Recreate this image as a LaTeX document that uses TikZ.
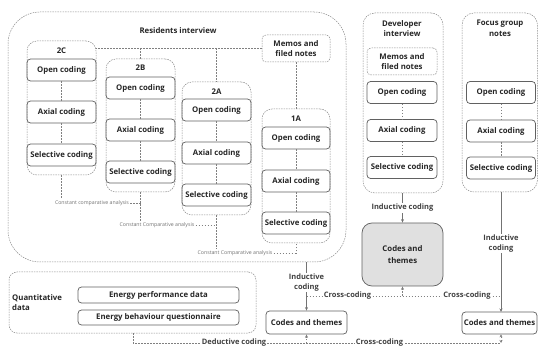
\documentclass[tikz,border=0pt]{standalone}
\usepackage{fontspec}
\setmainfont{Open Sans}
\usetikzlibrary{arrows.meta,calc}
\begin{document}
\begin{tikzpicture}[x=1pt,y=-1pt,
  cont/.style={draw=black!45, dash pattern=on 1.5pt off 1pt, line width=0.5pt, rounded corners=10pt, inner sep=0pt},
  mbox/.style={draw=black!45, dash pattern=on 1.5pt off 1pt, line width=0.5pt, rounded corners=4pt, inner sep=0pt, align=center, font=\bfseries\fontsize{7.8}{10}\selectfont, text=black!85},
  ibox/.style={draw=black!62, line width=0.75pt, rounded corners=3.5pt, font=\bfseries\fontsize{7.8}{9}\selectfont, text=black!85, inner sep=0pt, minimum width=69pt, minimum height=22pt},
  ttl/.style={font=\bfseries\fontsize{7.8}{10.5}\selectfont, text=black!85, align=center, inner sep=1pt},
  cca/.style={font=\fontsize{5.2}{6}\selectfont, text=black!55, fill=white, inner sep=1pt},
  dl/.style={draw=black!50, dash pattern=on 1.5pt off 1.5pt, line width=0.5pt},
  sl/.style={draw=black!55, line width=0.7pt},
  tip/.style={-{Stealth[length=3.5pt,width=3pt]}},
  lab/.style={font=\bfseries\fontsize{7.5}{10}\selectfont, text=black!75, fill=white, align=center, inner sep=1pt},
]
\useasboundingbox (0,0) rectangle (538,347);

% Residents interview container
\node[cont, rounded corners=32pt, minimum width=338pt, minimum height=250pt] (res) at (177,137) {};
\node[ttl] (tres) at (178,31) {Residents interview};
\node[mbox, minimum width=68pt, minimum height=27pt] (mres) at (296,48.5) {Memos and\\filed notes};

% 2C
\node[cont, minimum width=69pt, minimum height=134pt] (c2C) at (61.5,108) {};
\node[ttl] (l2C) at (61.5,51) {2C};
\node[ibox] (o2C) at (61.5,70) {Open coding};
\node[ibox] (a2C) at (61.5,112) {Axial coding};
\node[ibox] (s2C) at (61.5,155) {Selective coding};
% 2B
\node[cont, minimum width=69pt, minimum height=133pt] (c2B) at (140.5,125.5) {};
\node[ttl] (l2B) at (140.5,68) {2B};
\node[ibox] (o2B) at (140.5,88) {Open coding};
\node[ibox] (a2B) at (140.5,130) {Axial coding};
\node[ibox] (s2B) at (140.5,172) {Selective coding};
% 2A
\node[cont, minimum width=69pt, minimum height=133pt] (c2A) at (216.5,148.5) {};
\node[ttl] (l2A) at (216.5,92) {2A};
\node[ibox] (o2A) at (216.5,110) {Open coding};
\node[ibox] (a2A) at (216.5,153) {Axial coding};
\node[ibox] (s2A) at (216.5,195) {Selective coding};
% 1A
\node[cont, minimum width=68pt, minimum height=134pt] (c1A) at (296,176) {};
\node[ttl] (l1A) at (296,119) {1A};
\node[ibox, minimum width=68pt] (o1A) at (296,138) {Open coding};
\node[ibox, minimum width=68pt] (a1A) at (296,181) {Axial coding};
\node[ibox, minimum width=68pt] (s1A) at (296,223) {Selective coding};

% Developer interview
\node[cont, rounded corners=12pt, minimum width=80pt, minimum height=180pt] (dev) at (403,103) {};
\node[ttl] (tdev) at (402,28.5) {Developer\\interview};
\node[mbox, minimum width=70pt, minimum height=27pt] (mdev) at (402,61.5) {Memos and\\filed notes};
\node[ibox, minimum width=70pt] (odev) at (402,92.5) {Open coding};
\node[ibox, minimum width=70pt] (adev) at (402,130.5) {Axial coding};
\node[ibox, minimum width=70pt] (sdev) at (402,167.5) {Selective coding};

% Focus group notes
\node[cont, rounded corners=12pt, minimum width=75.5pt, minimum height=179pt] (foc) at (499.75,102.5) {};
\node[ttl] (tfoc) at (500,28.5) {Focus group\\notes};
\node[ibox] (ofoc) at (501,92.5) {Open coding};
\node[ibox] (afoc) at (501,131) {Axial coding};
\node[ibox] (sfoc) at (501,168) {Selective coding};

% Codes and themes
\node[ibox, fill=black!12, rounded corners=10pt, minimum width=81pt, minimum height=63pt, align=center, font=\bfseries\fontsize{7.8}{11.5}\selectfont] (big) at (402.5,254.5) {Codes and\\themes};
\node[ibox, minimum width=81pt, minimum height=23pt] (lc) at (306.5,322.5) {Codes and themes};
\node[ibox, minimum width=75pt, minimum height=22pt] (rc) at (499.5,323) {Codes and themes};

% Quantitative data
\node[cont, rounded corners=8pt, minimum width=247pt, minimum height=61pt] (quant) at (132.5,302.5) {};
\node[ttl, align=left, anchor=west] (tq) at (11,302.5) {Quantitative\\data};
\node[ibox, minimum width=161pt, minimum height=16pt] (epd) at (158.5,295) {Energy performance data};
\node[ibox, minimum width=161pt, minimum height=15pt] (ebq) at (158.5,317.5) {Energy behaviour questionnaire};

% dashed links inside columns
\foreach \c in {2C,2B,2A,1A,foc}{
  \draw[dl] (o\c.south) -- (a\c.north);
  \draw[dl] (a\c.south) -- (s\c.north);
}
\draw[dl] (odev.south) -- (adev.north);
\draw[dl] (adev.south) -- (sdev.north);

% memos links
\draw[dl] (mres.west) -- (mres.west -| c2C.east);
\draw[dl] (mres.west -| c2B.north) -- (c2B.north);
\draw[dl] (mres.west -| c2A.north) -- (c2A.north);
\draw[dl] (mres.south) -- (c1A.north);

% constant comparative analysis
\node[cca] (t1) at (92,203) {Constant comparative analysis};
\node[cca] (t2) at (157,225) {Constant Comparative analysis};
\node[cca] (t3) at (235,253) {Constant Comparative analysis};
\draw[dl] (c2C.south) -- (c2C.south |- t1.north);
\draw[dl] (t1.east) -- (t1.east -| c2B.south);
\draw[dl] (c2B.south) -- (c2B.south |- t2.north);
\draw[dl] (t2.east) -- (t2.east -| c2A.south);
\draw[dl] (c2A.south) -- (c2A.south |- t3.north);
\draw[dl] (t3.east) -- (t3.east -| c1A.south) -- (c1A.south);

% inductive coding
\draw[sl,tip] (lc.north |- res.south) -- node[lab, pos=0.42] {Inductive\\coding} (lc.north);
\draw[sl,tip] (dev.south -| big.north) -- node[lab] {Inductive coding} (big.north);
\coordinate (fcs) at (501,192);
\coordinate (fce) at (501,312);
\draw[sl,tip] (fcs) -- node[lab, pos=0.43] {Inductive\\coding} (fce);

% cross-coding (upper)
\coordinate (x1) at (306.5,296);
\coordinate (x2) at (501,296);
\draw[dl] (x1) -- (x2);
\node[lab] (cc1) at (347.5,296) {Cross-coding};
\node[lab] (cc2) at (467,296) {Cross-coding};
\draw[dl,tip] (x1 -| big.south) -- (big.south);

% bottom line
\coordinate (b0) at (133,343);
\coordinate (b1) at (306.5,343);
\coordinate (b2) at (501,343);
\draw[dl] (quant.south -| b0) -- (b0) -- (b2);
\node[lab] (dc) at (234,343) {Deductive coding};
\node[lab] (cc3) at (379.5,343) {Cross-coding};
\draw[dl,tip] (b1) -- (lc.south);
\draw[dl,{Stealth[length=3pt,width=3pt]}-{Stealth[length=3pt,width=3pt]}] (b2) -- (b2 |- rc.south);
\end{tikzpicture}
\end{document}
